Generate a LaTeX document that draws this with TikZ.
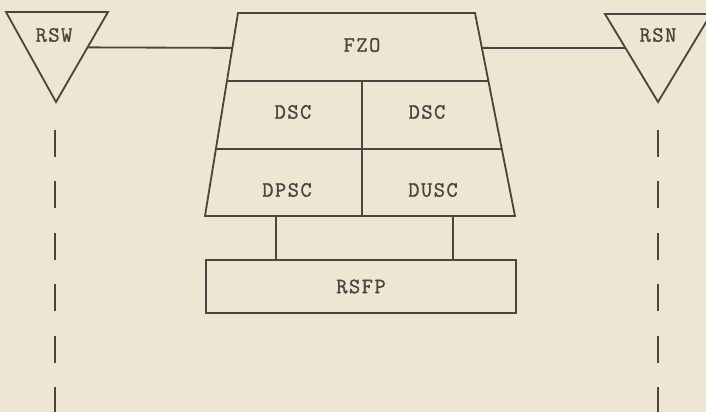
\documentclass[tikz,border=0pt]{standalone}
\usepackage{fontspec}
\usepackage{tikz}
\usetikzlibrary{calc, positioning}
\newfontfamily\typefont{Latin Modern Mono}[FakeBold=1.2, LetterSpace=7]
\definecolor{paper}{HTML}{EEE5D2}
\definecolor{inkgray}{HTML}{4A453E}
\tikzset{
  ink/.style      = {draw=inkgray, line width=1.3pt, line join=miter},
  trail/.style    = {draw=inkgray, line width=1.1pt, dash pattern=on 19.2pt off 17.4pt},
  lbl/.style      = {font=\fontsize{15.5}{18}\typefont, text=inkgray, inner sep=0pt},
  framebox/.style = {ink, lbl, inner sep=0pt, minimum width=7.75cm, minimum height=1.325cm},
}

\begin{document}
\begin{tikzpicture}[x=0.025cm, y=-0.025cm]
    % --- sheet --------------------------------------------------------
    \fill[paper] (0,0) rectangle (706,412);
    \useasboundingbox (0,0) rectangle (706,412);
    % --- west station -------------------------------------------------
    \coordinate (rswA) at (6,12);
    \coordinate (rswB) at (108,12);
    \coordinate (rswC) at (56,102);
    \draw[ink] (rswA) -- (rswB) -- (rswC) -- cycle;
    \node[lbl] (rsw) at (54,35) {RSW};
    % --- north station ------------------------------------------------
    \coordinate (rsnA) at (605,14);
    \coordinate (rsnB) at (711,14);
    \coordinate (rsnC) at (658,102);
    \draw[ink] (rsnA) -- (rsnB) -- (rsnC) -- cycle;
    \node[lbl] (rsn) at (658,35) {RSN};
    % --- trapezoid ----------------------------------------------------
    \coordinate (tl) at (238,13);
    \coordinate (tr) at (475,13);
    \coordinate (br) at (515,216);
    \coordinate (bl) at (205,216);
    \draw[ink] (tl) -- (tr) -- (br) -- (bl) -- cycle;
    \coordinate (l1) at ($(tl)!0.335!(bl)$);
    \coordinate (r1) at ($(tr)!0.335!(br)$);
    \coordinate (l2) at ($(tl)!0.670!(bl)$);
    \coordinate (r2) at ($(tr)!0.670!(br)$);
    \draw[ink] (l1) -- (r1);
    \draw[ink] (l2) -- (r2);
    \coordinate (mtop) at (362,81);
    \coordinate (mbot) at (362,216);
    \draw[ink] (mtop) -- (mbot);
    \node[lbl] (fzo)  at (362,45)  {FZO};
    \node[lbl] (dsc1) at (293,112) {DSC};
    \node[lbl] (dsc2) at (427,112) {DSC};
    \node[lbl] (dpsc) at (287,190) {DPSC};
    \node[lbl] (dusc) at (433,190) {DUSC};
    % --- links to stations --------------------------------------------
    \coordinate (wl) at ($(tl)!0.172!(bl)$);
    \coordinate (wr) at ($(rswB)!0.393!(rswC)$);
    \draw[ink] (wr) -- (wl);
    \coordinate (el) at ($(tr)!0.172!(br)$);
    \coordinate (er) at ($(rsnA)!0.386!(rsnC)$);
    \draw[ink] (el) -- (er);
    % --- RSFP ---------------------------------------------------------
    \node[framebox] (rsfp) at (361,286.5) {RSFP};
    \coordinate (p1) at (276,216);
    \coordinate (p2) at (453,216);
    \draw[ink] (p1) -- (p1 |- rsfp.north);
    \draw[ink] (p2) -- (p2 |- rsfp.north);
    % --- dashed tracks ------------------------------------------------
    \coordinate (wt) at (55,130);
    \coordinate (nt) at (658,130);
    \draw[trail] (wt) -- (wt |- 0,420);
    \draw[trail] (nt) -- (nt |- 0,420);
\end{tikzpicture}
\end{document}
